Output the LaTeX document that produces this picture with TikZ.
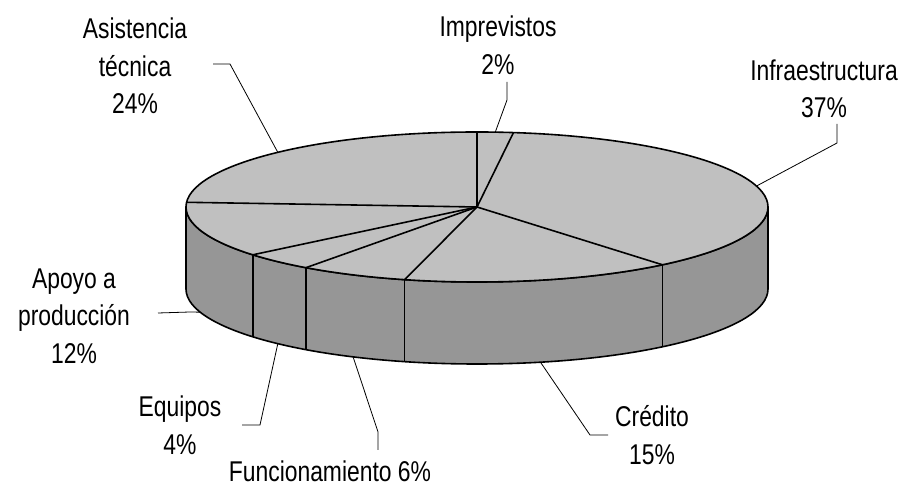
\documentclass[tikz,border=0pt]{standalone}
\usepackage{fontspec}
\setmainfont{Liberation Sans}[FakeStretch=0.8]
\definecolor{pietop}{RGB}{192,192,192}
\definecolor{pieside}{RGB}{150,150,150}

\begin{document}
\begin{tikzpicture}[
x=1pt, y=1pt,
rim/.style={draw=black, line width=1.6pt, line join=round},
cut/.style={draw=black, line width=1.6pt},
leader/.style={draw=black, line width=0.8pt},
lbl/.style={align=center, inner sep=0pt, font=\fontsize{28.6}{37.5}\selectfont},
]
\useasboundingbox (0,0) rectangle (900,487);
\begin{scope}[shift={(477,280)}]
\coordinate (C) at (0,0);
% side wall
\filldraw[rim, fill=pieside] (0:291 and 75)
	arc[start angle=0, end angle=-180, x radius=291, y radius=75] -- ++(0,-82)
	arc[start angle=180, end angle=360, x radius=291, y radius=75] -- cycle;
\foreach \a in {-50.4,-104.4,-126,-140.4}
	\draw[cut] (\a:291 and 75) -- ++(0,-82);
% top
\filldraw[rim, fill=pietop] (C) ellipse[x radius=291, y radius=75];
\foreach \a in {90,82.8,-50.4,-104.4,-126,-140.4,-183.6}
	\draw[cut] (C) -- (\a:291 and 75);
\coordinate (pAsis) at (133.2:291 and 75);
\coordinate (pImpr) at (86.4:291 and 75);
\coordinate (pInfr) at (16.2:291 and 75);
\begin{scope}[yshift=-82]
\coordinate (pCred) at (-77.4:291 and 75);
\coordinate (pFunc) at (-115.2:291 and 75);
\coordinate (pEqui) at (-133.2:291 and 75);
\coordinate (pApoyo) at (-162:291 and 75);
\end{scope}
\end{scope}

\node[lbl] (asis) at (135,421) {Asistencia\\técnica\\24\%};
\node[lbl] (impr) at (498,442) {Imprevistos\\2\%};
\node[lbl] (infr) at (824,398) {Infraestructura\\37\%};
\node[lbl] (cred) at (652,52) {Crédito\\15\%};
\node[lbl] (apoyo) at (74,171) {Apoyo a\\producción\\12\%};
\node[lbl] (equi) at (180,62) {Equipos\\4\%};
\node[lbl, anchor=base] (func) at (330,5) {Funcionamiento 6\%};

\coordinate (asisA) at (213,423);
\coordinate (imprA) at (507,405);
\coordinate (infrA) at (837,363);
\coordinate (credA) at (608,52);
\coordinate (funcA) at (378,37);
\coordinate (equiA) at (242,62);
\coordinate (apoyoA) at (158,174);

\draw[leader] (asisA) -- ++(17,0) -- (pAsis);
\draw[leader] (imprA) -- ++(0,-18) -- (pImpr);
\draw[leader] (infrA) -- ++(0,-19) -- (pInfr);
\draw[leader] (credA) -- ++(-18,0) -- (pCred);
\draw[leader] (funcA) -- ++(0,18) -- (pFunc);
\draw[leader] (equiA) -- ++(18,0) -- (pEqui);
\draw[leader] (apoyoA) -- ++(32,1) -- (pApoyo);
\end{tikzpicture}
\end{document}
